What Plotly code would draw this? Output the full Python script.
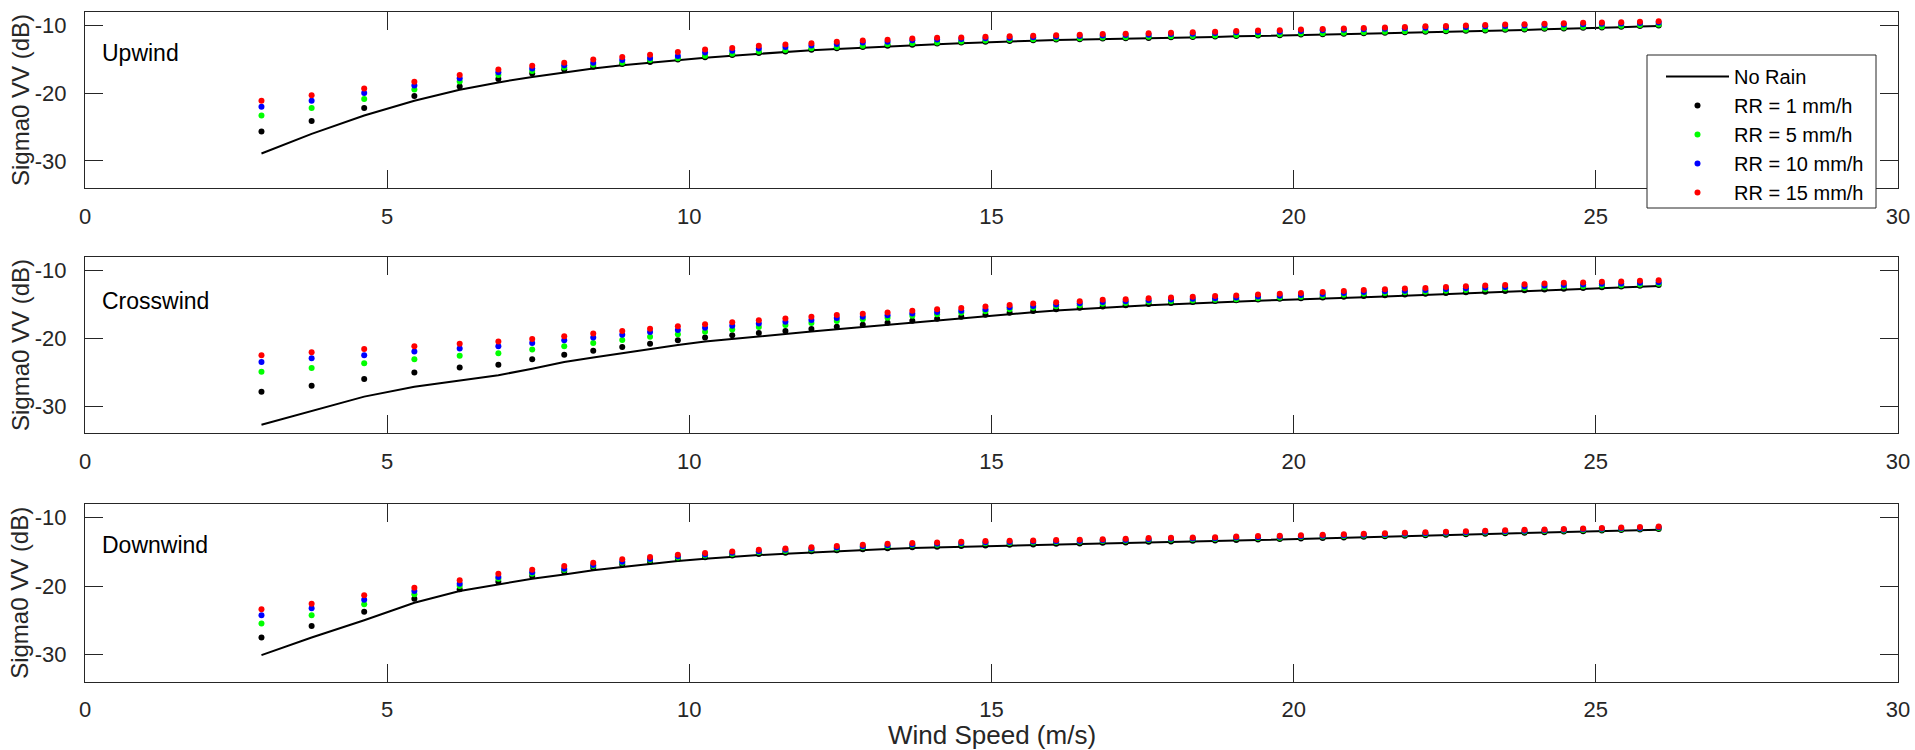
import plotly.graph_objects as go
from plotly.subplots import make_subplots

# ---------------------------------------------------------------- data
wind_speed = [2.92, 3.75, 4.62, 5.45, 6.20, 6.84, 7.40, 7.93, 8.41, 8.89, 9.35, 9.81,
              10.26, 10.71, 11.15, 11.59, 12.02, 12.44, 12.87, 13.28, 13.69, 14.10, 14.50, 14.90,
              15.30, 15.69, 16.07, 16.46, 16.84, 17.22, 17.60, 17.97, 18.33, 18.70, 19.05, 19.41,
              19.77, 20.12, 20.48, 20.83, 21.16, 21.51, 21.84, 22.18, 22.52, 22.85, 23.17, 23.50,
              23.82, 24.15, 24.47, 24.79, 25.10, 25.42, 25.73, 26.04]

# Upwind
up_no_rain = [-28.9, -26.0, -23.3, -21.1, -19.5, -18.4, -17.6, -16.9, -16.35, -15.85, -15.45, -15.1,
              -14.75, -14.45, -14.15, -13.9, -13.65, -13.45, -13.25, -13.05, -12.9, -12.75, -12.6, -12.45,
              -12.35, -12.25, -12.15, -12.1, -12.0, -11.95, -11.9, -11.8, -11.75, -11.7, -11.6, -11.55, -11.5,
              -11.4, -11.35, -11.3, -11.2, -11.15, -11.05, -11.0, -10.9, -10.85, -10.8, -10.7, -10.65,
              -10.55, -10.5, -10.4, -10.35, -10.25, -10.15, -10.05]
up_rr1 = [-25.66, -24.1, -22.2, -20.4, -19.0, -17.9, -17.1, -16.5, -16.1, -15.7, -15.4, -15.0,
          -14.67, -14.37, -14.07, -13.82, -13.57, -13.37, -13.17, -12.97, -12.82, -12.67, -12.52, -12.38,
          -12.28, -12.18, -12.08, -12.03, -11.93, -11.88, -11.83, -11.73, -11.68, -11.63, -11.53, -11.48,
          -11.43, -11.33, -11.28, -11.23, -11.13, -11.08, -10.98, -10.93, -10.83, -10.78, -10.73, -10.63,
          -10.58, -10.48, -10.43, -10.33, -10.28, -10.18, -10.08, -9.98]
up_rr5 = [-23.3, -22.2, -20.85, -19.45, -18.25, -17.3, -16.7, -16.2, -15.8, -15.5, -15.1, -14.85,
          -14.45, -14.15, -13.85, -13.6, -13.37, -13.17, -12.97, -12.78, -12.63, -12.49, -12.35, -12.2,
          -12.1, -12.01, -11.91, -11.86, -11.77, -11.72, -11.67, -11.58, -11.53, -11.48, -11.38, -11.33,
          -11.28, -11.18, -11.13, -11.08, -10.98, -10.93, -10.83, -10.78, -10.68, -10.63, -10.58, -10.48,
          -10.43, -10.33, -10.28, -10.18, -10.13, -10.03, -9.93, -9.83]
up_rr10 = [-22.0, -21.1, -19.97, -18.85, -17.77, -16.9, -16.35, -15.85, -15.5, -15.1, -14.8, -14.5,
           -14.0, -13.72, -13.4, -13.18, -12.95, -12.73, -12.5, -12.38, -12.17, -12.05, -11.99, -11.88,
           -11.83, -11.72, -11.67, -11.56, -11.46, -11.41, -11.36, -11.26, -11.2, -11.1, -11.0, -10.95,
           -10.9, -10.8, -10.7, -10.62, -10.55, -10.48, -10.4, -10.32, -10.25, -10.2, -10.12, -10.05,
           -10.0, -9.92, -9.86, -9.8, -9.75, -9.7, -9.64, -9.56]
up_rr15 = [-21.1, -20.3, -19.3, -18.3, -17.3, -16.5, -15.95, -15.5, -15.0, -14.65, -14.3, -13.9,
           -13.55, -13.3, -13.0, -12.8, -12.6, -12.4, -12.2, -12.1, -11.9, -11.8, -11.75, -11.65,
           -11.6, -11.5, -11.45, -11.35, -11.25, -11.2, -11.15, -11.05, -11.0, -10.9, -10.8, -10.75,
           -10.7, -10.6, -10.5, -10.42, -10.35, -10.28, -10.2, -10.12, -10.05, -10.0, -9.92, -9.85,
           -9.8, -9.72, -9.66, -9.6, -9.55, -9.5, -9.44, -9.36]

# Crosswind
cr_no_rain = [-32.75, -30.7, -28.6, -27.15, -26.2, -25.45, -24.5, -23.5, -22.85, -22.2, -21.6, -21.0,
              -20.5, -20.1, -19.72, -19.37, -19.03, -18.68, -18.34, -18.0, -17.68, -17.36, -17.04, -16.74,
              -16.45, -16.18, -15.93, -15.7, -15.5, -15.32, -15.15, -15.0, -14.85, -14.72, -14.6, -14.48,
              -14.38, -14.3, -14.19, -14.08, -13.97, -13.86, -13.75, -13.64, -13.53, -13.42, -13.31, -13.2,
              -13.09, -12.98, -12.87, -12.76, -12.65, -12.54, -12.43, -12.32]
cr_rr1 = [-27.9, -27.0, -26.0, -25.05, -24.3, -23.9, -23.1, -22.45, -21.85, -21.3, -20.8, -20.3,
          -19.88, -19.55, -19.23, -18.93, -18.64, -18.33, -18.03, -17.72, -17.43, -17.13, -16.83, -16.54,
          -16.27, -16.0, -15.75, -15.52, -15.32, -15.14, -14.97, -14.82, -14.67, -14.54, -14.42, -14.3,
          -14.2, -14.12, -14.01, -13.9, -13.8, -13.69, -13.58, -13.47, -13.36, -13.25, -13.15, -13.04,
          -12.93, -12.82, -12.71, -12.6, -12.49, -12.39, -12.28, -12.17]
cr_rr5 = [-24.95, -24.4, -23.7, -23.1, -22.6, -22.2, -21.65, -21.2, -20.7, -20.25, -19.8, -19.4,
          -19.05, -18.7, -18.35, -18.05, -17.75, -17.45, -17.21, -16.98, -16.7, -16.47, -16.25, -16.03,
          -15.75, -15.52, -15.3, -15.13, -14.91, -14.8, -14.65, -14.55, -14.45, -14.35, -14.25, -14.1,
          -14.0, -13.9, -13.75, -13.6, -13.45, -13.35, -13.25, -13.15, -13.0, -12.9, -12.8, -12.7,
          -12.6, -12.5, -12.4, -12.35, -12.25, -12.2, -12.1, -12.0]
cr_rr10 = [-23.5, -22.95, -22.5, -21.95, -21.5, -21.2, -20.7, -20.3, -19.9, -19.5, -19.1, -18.8,
           -18.47, -18.15, -17.83, -17.57, -17.31, -17.04, -16.83, -16.62, -16.36, -16.15, -15.94, -15.73,
           -15.46, -15.25, -15.03, -14.87, -14.66, -14.55, -14.4, -14.3, -14.2, -14.1, -14.0, -13.85,
           -13.75, -13.65, -13.5, -13.35, -13.2, -13.1, -13.0, -12.9, -12.75, -12.65, -12.55, -12.45,
           -12.35, -12.25, -12.15, -12.1, -12.0, -11.95, -11.85, -11.75]
cr_rr15 = [-22.5, -22.05, -21.6, -21.2, -20.8, -20.5, -20.1, -19.7, -19.3, -18.95, -18.6, -18.25,
           -17.95, -17.65, -17.35, -17.1, -16.85, -16.6, -16.4, -16.2, -15.95, -15.75, -15.55, -15.35,
           -15.1, -14.9, -14.7, -14.55, -14.35, -14.25, -14.1, -14.0, -13.9, -13.8, -13.7, -13.55,
           -13.45, -13.35, -13.2, -13.05, -12.9, -12.8, -12.7, -12.6, -12.45, -12.35, -12.25, -12.15,
           -12.05, -11.95, -11.85, -11.8, -11.7, -11.65, -11.55, -11.45]

# Downwind
dn_no_rain = [-30.12, -27.54, -25.01, -22.44, -20.73, -19.76, -18.93, -18.3, -17.71, -17.23, -16.74, -16.35,
              -16.01, -15.72, -15.47, -15.28, -15.08, -14.89, -14.74, -14.6, -14.45, -14.35, -14.26, -14.16,
              -14.06, -14.01, -13.91, -13.87, -13.77, -13.72, -13.62, -13.58, -13.47, -13.43, -13.34, -13.27,
              -13.19, -13.12, -13.04, -12.97, -12.89, -12.81, -12.74, -12.66, -12.58, -12.5, -12.43, -12.35,
              -12.28, -12.2, -12.12, -12.05, -11.97, -11.9, -11.82, -11.75]
dn_rr1 = [-27.55, -25.84, -23.75, -21.85, -20.49, -19.37, -18.54, -17.91, -17.33, -16.84, -16.45, -16.06,
          -15.8, -15.53, -15.3, -15.12, -14.93, -14.75, -14.61, -14.48, -14.34, -14.25, -14.16, -14.07,
          -13.97, -13.92, -13.82, -13.78, -13.68, -13.63, -13.53, -13.49, -13.39, -13.35, -13.26, -13.19,
          -13.11, -13.04, -12.96, -12.89, -12.81, -12.73, -12.66, -12.58, -12.5, -12.42, -12.35, -12.27,
          -12.2, -12.12, -12.04, -11.97, -11.89, -11.82, -11.74, -11.67]
dn_rr5 = [-25.5, -24.28, -22.67, -21.21, -20.0, -18.93, -18.2, -17.66, -17.08, -16.6, -16.2, -15.81,
          -15.55, -15.3, -15.06, -14.86, -14.66, -14.5, -14.32, -14.17, -14.05, -13.95, -13.86, -13.76,
          -13.7, -13.64, -13.57, -13.53, -13.43, -13.38, -13.28, -13.23, -13.16, -13.12, -13.02, -12.97,
          -12.92, -12.84, -12.76, -12.68, -12.61, -12.53, -12.47, -12.39, -12.31, -12.24, -12.17, -12.09,
          -12.02, -11.95, -11.88, -11.8, -11.72, -11.66, -11.59, -11.52]
dn_rr10 = [-24.28, -23.26, -22.0, -20.73, -19.66, -18.69, -18.0, -17.47, -16.93, -16.45, -16.06, -15.66,
           -15.4, -15.15, -14.91, -14.71, -14.51, -14.36, -14.17, -14.02, -13.91, -13.81, -13.71, -13.61,
           -13.56, -13.5, -13.44, -13.4, -13.3, -13.25, -13.15, -13.1, -13.04, -13.0, -12.9, -12.85,
           -12.81, -12.72, -12.64, -12.56, -12.5, -12.42, -12.36, -12.28, -12.2, -12.13, -12.06, -11.98,
           -11.91, -11.85, -11.78, -11.7, -11.62, -11.56, -11.5, -11.42]
dn_rr15 = [-23.4, -22.58, -21.36, -20.25, -19.17, -18.2, -17.62, -17.08, -16.6, -16.1, -15.77, -15.43,
           -15.18, -14.94, -14.7, -14.5, -14.31, -14.16, -13.97, -13.82, -13.72, -13.62, -13.53, -13.43,
           -13.39, -13.34, -13.28, -13.24, -13.14, -13.09, -12.99, -12.94, -12.89, -12.85, -12.75, -12.7,
           -12.66, -12.58, -12.5, -12.42, -12.36, -12.28, -12.22, -12.14, -12.07, -12.0, -11.93, -11.85,
           -11.78, -11.72, -11.66, -11.58, -11.5, -11.44, -11.38, -11.3]

panel_names = ["Upwind", "Crosswind", "Downwind"]
series_names = ["No Rain", "RR = 1 mm/h", "RR = 5 mm/h", "RR = 10 mm/h", "RR = 15 mm/h"]
series_colors = ["#000000", "#000000", "#00ff00", "#0000ff", "#ff0000"]
x_tick_values = [0, 5, 10, 15, 20, 25, 30]
x_tick_labels = ["0", "5", "10", "15", "20", "25", "30"]
y_tick_values = [-30, -20, -10]
y_tick_labels = ["-30", "-20", "-10"]
x_title = "Wind Speed (m/s)"
y_title = "Sigma0 VV (dB)"

panels = [
    [up_no_rain, up_rr1, up_rr5, up_rr10, up_rr15],
    [cr_no_rain, cr_rr1, cr_rr5, cr_rr10, cr_rr15],
    [dn_no_rain, dn_rr1, dn_rr5, dn_rr10, dn_rr15],
]
for group in panels:
    for s in group:
        assert len(s) == len(wind_speed)

# ---------------------------------------------------------------- figure
W, H = 1915, 750
ML, MR, MT, MB = 85, 17, 12, 68
PW, PH = W - ML - MR, H - MT - MB

FONT = "Liberation Sans, Arial, Helvetica, sans-serif"
AX_COLOR = "#262626"


def px_x(px):
    return (px - ML) / PW


def px_y(py):
    return 1 - (py - MT) / PH


def clamp01(v):
    return min(1.0, max(0.0, v))


fig = make_subplots(rows=3, cols=1)

for row, group in enumerate(panels, start=1):
    for k, (name, color, values) in enumerate(zip(series_names, series_colors, group)):
        if k == 0:
            trace = go.Scatter(x=wind_speed, y=values, mode="lines", name=name,
                               line=dict(color=color, width=2), showlegend=(row == 1))
        else:
            trace = go.Scatter(x=wind_speed, y=values, mode="markers", name=name,
                               marker=dict(color=color, size=6, line=dict(width=0)),
                               showlegend=(row == 1))
        fig.add_trace(trace, row=row, col=1)

# panel vertical extents in pixels (top, bottom)
panel_px = [(12.0, 188.0), (256.7, 433.3), (504.0, 681.7)]

axis_common = dict(showline=True, mirror="ticks", linecolor=AX_COLOR, linewidth=1.3,
                   ticks="inside", ticklen=18, tickwidth=1.3, tickcolor=AX_COLOR,
                   showgrid=False, zeroline=False,
                   tickfont=dict(family=FONT, size=22, color=AX_COLOR))

for i, (top, bot) in enumerate(panel_px, start=1):
    suffix = "" if i == 1 else str(i)
    fig.update_layout({
        f"xaxis{suffix}": dict(axis_common, range=[0, 30], tickvals=x_tick_values,
                               ticktext=x_tick_labels, ticklabelstandoff=8),
        f"yaxis{suffix}": dict(axis_common, range=[-34, -8], tickvals=y_tick_values,
                               ticktext=y_tick_labels, ticklabelstandoff=13,
                               domain=[clamp01(px_y(bot)), clamp01(px_y(top))]),
    })

annotations = []
label_centers = [53.3, 300.8, 545.0]
for name, yc in zip(panel_names, label_centers):
    annotations.append(dict(text=name, xref="paper", yref="paper", x=px_x(100), y=px_y(yc),
                            xanchor="left", yanchor="middle", showarrow=False,
                            font=dict(family=FONT, size=23, color="#000000")))
for top, bot in panel_px:
    annotations.append(dict(text=y_title, xref="paper", yref="paper", x=px_x(20),
                            y=px_y((top + bot) / 2), xanchor="center", yanchor="middle",
                            textangle=-90, showarrow=False,
                            font=dict(family=FONT, size=24, color=AX_COLOR)))
annotations.append(dict(text=x_title, xref="paper", yref="paper", x=0.5, y=px_y(735.0),
                        xanchor="center", yanchor="middle", showarrow=False,
                        font=dict(family=FONT, size=26, color=AX_COLOR)))

# legend frame
legend_box = dict(type="rect", xref="paper", yref="paper", layer="above",
                  x0=px_x(1647), x1=px_x(1876), y0=px_y(208), y1=px_y(55),
                  fillcolor="#ffffff", line=dict(color=AX_COLOR, width=1))

fig.update_layout(
    width=W, height=H,
    margin=dict(l=ML, r=MR, t=MT, b=MB, autoexpand=False),
    paper_bgcolor="#ffffff", plot_bgcolor="#ffffff",
    annotations=annotations,
    shapes=[legend_box],
    legend=dict(x=px_x(1661), y=px_y(57), xanchor="left", yanchor="top",
                bgcolor="rgba(0,0,0,0)", borderwidth=0, itemwidth=63, tracegroupgap=0,
                font=dict(family=FONT, size=20, color="#000000")),
)

fig.write_html("out.html")
